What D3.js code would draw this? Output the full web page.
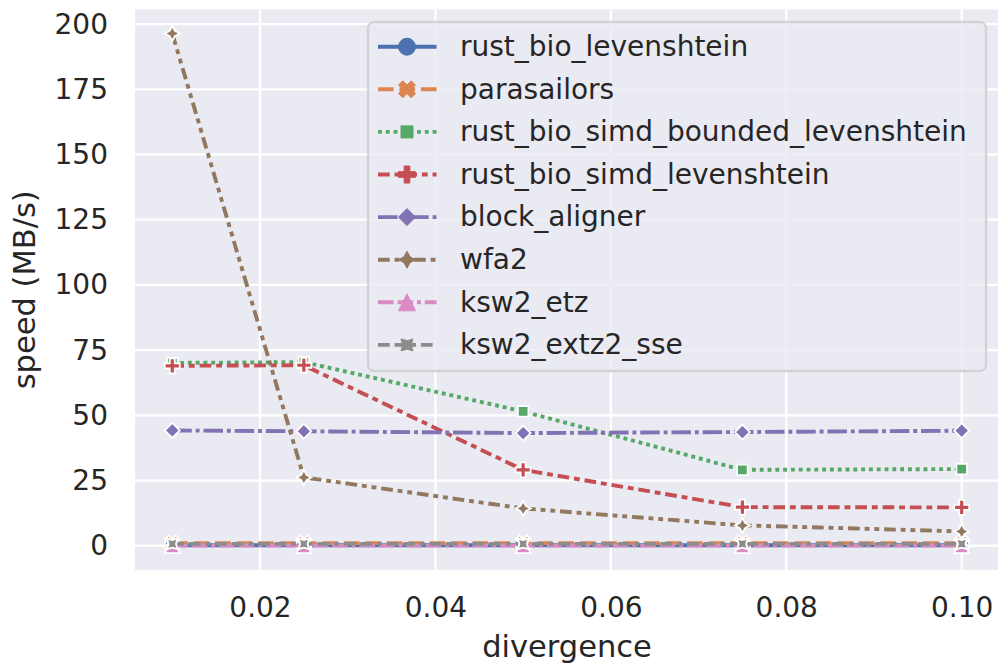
<!DOCTYPE html>
<html>
<head>
<meta charset="utf-8">
<script src="https://cdn.jsdelivr.net/npm/d3@7"></script>
<style>
  html, body { margin: 0; padding: 0; background: #ffffff; }
  svg { display: block; font-family: "DejaVu Sans", sans-serif; }
</style>
</head>
<body>
<svg id="chart" width="998" height="666"></svg>
<script>
// ---------------- data ----------------
const divergence = [0.01, 0.025, 0.05, 0.075, 0.1];
const seriesNames = ["rust_bio_levenshtein", "parasailors", "rust_bio_simd_bounded_levenshtein",
  "rust_bio_simd_levenshtein", "block_aligner", "wfa2", "ksw2_etz", "ksw2_extz2_sse"];
const rustBioLevenshtein = [0.2, 0.2, 0.2, 0.2, 0.2];
const parasailors = [1.0, 1.0, 1.0, 1.0, 1.0];
const rustBioSimdBoundedLevenshtein = [70.1, 70.4, 51.5, 29.1, 29.4];
const rustBioSimdLevenshtein = [69.0, 69.2, 29.1, 14.8, 14.7];
const blockAligner = [44.2, 43.9, 43.2, 43.6, 44.1];
const wfa2 = [196.4, 26.2, 14.3, 7.8, 5.5];
const ksw2Etz = [0.05, 0.05, 0.05, 0.05, 0.05];
const ksw2Extz2Sse = [0.7, 0.7, 0.7, 0.7, 0.7];
const seriesValues = [rustBioLevenshtein, parasailors, rustBioSimdBoundedLevenshtein,
  rustBioSimdLevenshtein, blockAligner, wfa2, ksw2Etz, ksw2Extz2Sse];
const xTicks = [0.02, 0.04, 0.06, 0.08, 0.10];
const yTicks = [0, 25, 50, 75, 100, 125, 150, 175, 200];
const xLabel = "divergence";
const yLabel = "speed (MB/s)";

// ---------------- styles ----------------
const colors = ["#4c72b0", "#dd8452", "#55a868", "#c44e52", "#8172b3", "#937860", "#da8bc3", "#8c8c8c"];
const dashes = [[], [4, 1.5], [1, 1], [3, 1.25, 1.5, 1.25], [5, 1, 1, 1],
  [3, 1.25, 1.25, 1.25, 1.25, 1.25], [4, 1, 4, 1, 1, 1], [3, 1.25, 3, 1.25, 1.25, 1.25]];
const markerKinds = ["circle", "xfilled", "square", "plus", "diamond", "star4", "triangle", "star4x"];
const LW = 3.9;
const textColor = "#262626";

const svg = d3.select("#chart");
const plot = { left: 135, right: 998, top: 9.5, bottom: 570 };

const x = d3.scaleLinear().domain([0.00575, 0.10414]).range([plot.left, plot.right]);
const y = d3.scaleLinear().domain([-9.3, 205.6]).range([plot.bottom, plot.top]);

// background
svg.append("rect").attr("x", plot.left).attr("y", plot.top)
  .attr("width", plot.right - plot.left).attr("height", plot.bottom - plot.top)
  .attr("fill", "#eaeaf2");

// grid
const grid = svg.append("g");
grid.selectAll("line.gx").data(xTicks).join("line")
  .attr("x1", d => x(d)).attr("x2", d => x(d)).attr("y1", plot.top).attr("y2", plot.bottom)
  .attr("stroke", "#ffffff").attr("stroke-width", 2.3);
grid.selectAll("line.gy").data(yTicks).join("line")
  .attr("x1", plot.left).attr("x2", plot.right).attr("y1", d => y(d)).attr("y2", d => y(d))
  .attr("stroke", "#ffffff").attr("stroke-width", 2.3);

// axes
const xAxis = svg.append("g").attr("transform", `translate(0,${plot.bottom})`)
  .call(d3.axisBottom(x).tickValues(xTicks).tickFormat(d3.format(".2f")).tickSize(0).tickPadding(27));
const yAxis = svg.append("g").attr("transform", `translate(${plot.left},0)`)
  .call(d3.axisLeft(y).tickValues(yTicks).tickFormat(d3.format("d")).tickSize(0).tickPadding(27));
[xAxis, yAxis].forEach(a => {
  a.select(".domain").remove();
  a.selectAll("text").attr("fill", textColor).style("font-size", "28px").style("font-family", "DejaVu Sans");
});

svg.append("text").attr("x", 567).attr("y", 656.5).attr("text-anchor", "middle")
  .attr("fill", textColor).style("font-size", "30.5px").text(xLabel);
svg.append("text").attr("transform", `translate(35,${(plot.top + plot.bottom) / 2}) rotate(-90)`)
  .attr("text-anchor", "middle").attr("fill", textColor).style("font-size", "30.5px").text(yLabel);

// marker path generator (matplotlib-like)
function markerPath(kind, ms) {
  const r = ms / 2;
  const poly = pts => "M" + pts.map(p => p[0].toFixed(2) + "," + p[1].toFixed(2)).join("L") + "Z";
  switch (kind) {
    case "circle": {
      const p = d3.path(); p.arc(0, 0, r, 0, 2 * Math.PI); p.closePath(); return p.toString();
    }
    case "xfilled": {
      const v = [[0.25, 0], [0.5, 0.25], [0.75, 0], [1, 0.25], [0.75, 0.5], [1, 0.75],
        [0.75, 1], [0.5, 0.75], [0.25, 1], [0, 0.75], [0.25, 0.5], [0, 0.25]];
      return poly(v.map(p => [(p[0] - 0.5) * ms, (p[1] - 0.5) * ms]));
    }
    case "square": {
      const h = r / Math.SQRT2;
      return poly([[-h, -h], [h, -h], [h, h], [-h, h]]);
    }
    case "plus": {
      const v = [[-1, -3], [1, -3], [1, -1], [3, -1], [3, 1], [1, 1], [1, 3], [-1, 3], [-1, 1], [-3, 1], [-3, -1], [-1, -1]];
      return poly(v.map(p => [p[0] / 6 * ms, p[1] / 6 * ms]));
    }
    case "diamond":
      return poly([[0, -r], [r, 0], [0, r], [-r, 0]]);
    case "star4":
    case "star4x": {
      const rot = kind === "star4x" ? Math.PI / 4 : 0;
      const pts = [];
      for (let i = 0; i < 8; i++) {
        const a = -Math.PI / 2 + i * Math.PI / 4 + rot;
        const rr = i % 2 === 0 ? r : r * 0.5;
        pts.push([rr * Math.cos(a), rr * Math.sin(a)]);
      }
      return poly(pts);
    }
    case "triangle":
      return poly([[0, -r], [-r, r], [r, r]]);
  }
}

// lines + markers
const lineGen = d3.line().x(d => x(d[0])).y(d => y(d[1]));
const series = svg.append("g");
seriesValues.forEach((vals, i) => {
  const pts = divergence.map((d, j) => [d, vals[j]]);
  const g = series.append("g");
  g.append("path").datum(pts).attr("d", lineGen).attr("fill", "none")
    .attr("stroke", colors[i]).attr("stroke-width", LW)
    .attr("stroke-dasharray", dashes[i].length ? dashes[i].map(v => v * LW).join(",") : null)
    .attr("stroke-linecap", dashes[i].length ? "butt" : "round")
    .attr("stroke-linejoin", "round");
  g.selectAll("path.m").data(pts).join("path").attr("class", "m")
    .attr("transform", d => `translate(${x(d[0])},${y(d[1])})`)
    .attr("d", markerPath(markerKinds[i], 15))
    .attr("fill", colors[i]).attr("stroke", "#ffffff").attr("stroke-width", 1.8);
});

// legend
const lg = svg.append("g");
lg.append("rect").attr("x", 368).attr("y", 22).attr("width", 618).attr("height", 349)
  .attr("rx", 6).attr("fill", "#eaeaf2").attr("fill-opacity", 0.8)
  .attr("stroke", "#cccccc").attr("stroke-opacity", 0.8).attr("stroke-width", 2.3);
seriesNames.forEach((name, i) => {
  const cy = 46.7 + i * 42.6;
  lg.append("line").attr("x1", 378).attr("x2", 436.5).attr("y1", cy).attr("y2", cy)
    .attr("stroke", colors[i]).attr("stroke-width", LW)
    .attr("stroke-dasharray", dashes[i].length ? dashes[i].map(v => v * LW).join(",") : null);
  lg.append("path").attr("transform", `translate(407,${cy})`)
    .attr("d", markerPath(markerKinds[i], 17))
    .attr("fill", colors[i]).attr("stroke", colors[i]).attr("stroke-width", 1);
  lg.append("text").attr("x", 460).attr("y", cy).attr("dy", "0.33em")
    .attr("fill", textColor).style("font-size", "28px").text(name);
});
</script>
</body>
</html>
